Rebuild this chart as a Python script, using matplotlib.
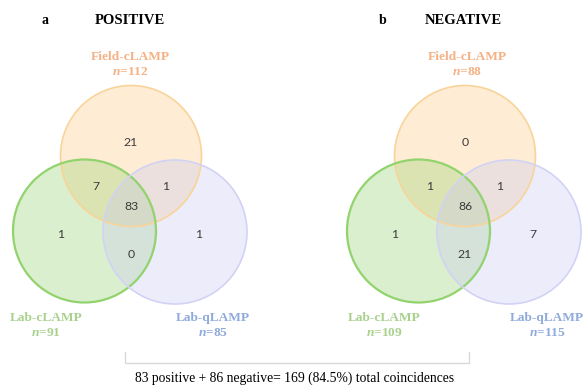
import matplotlib
matplotlib.use("Agg")
import matplotlib.pyplot as plt
from matplotlib.patches import Circle

plt.rcParams['mathtext.fontset'] = 'custom'
plt.rcParams['mathtext.it'] = 'Liberation Serif:italic:bold'
plt.rcParams['mathtext.rm'] = 'Liberation Serif:bold'

# ---- data ----
panel_letters = ["a", "b"]
panel_titles = ["POSITIVE", "NEGATIVE"]
set_names = ["Field-cLAMP", "Lab-cLAMP", "Lab-qLAMP"]
n_positive = [112, 91, 85]
n_negative = [88, 109, 115]
# regions: field only, lab-c only, lab-q only, field&c, field&q, c&q, all
regions = ["F", "C", "Q", "FC", "FQ", "CQ", "FCQ"]
counts_positive = [21, 1, 1, 7, 1, 0, 83]
counts_negative = [0, 1, 7, 1, 1, 21, 86]
footer = "83 positive + 86 negative= 169 (84.5%) total coincidences"

# ---- style ----
face_cols = ["#FFC77D", "#8FD16A", "#C8C8F5"]
edge_cols = ["#F9D49A", "#92D36E", "#D2D2F5"]
label_cols = ["#F4B183", "#A9D18E", "#8FAADC"]

fig = plt.figure(figsize=(5.85, 3.85), dpi=100)
ax = fig.add_axes([0, 0, 1, 1])
ax.set_xlim(0, 585)
ax.set_ylim(385, 0)
ax.set_aspect('equal')
ax.axis('off')

panel_dx = [0, 334]
circ_off = [(131, 156), (84.5, 231), (175, 232)]
radii = [70.5, 71.5, 72]
edge_w = [1.2, 1.6, 1.2]
region_pos = {"F": (131, 143), "C": (61, 234), "Q": (199, 234),
              "FC": (96, 186), "FQ": (166, 186), "CQ": (131, 255),
              "FCQ": (131, 207)}
label_pos = [(130, 57), (46, 318), (213, 318)]
label_pos_b = [(467, 57), (384, 318), (547, 318)]

for p, (letter, title, ns, cnts) in enumerate(zip(
        panel_letters, panel_titles, [n_positive, n_negative],
        [counts_positive, counts_negative])):
    dx = panel_dx[p]
    for i in range(3):
        cx, cy = circ_off[i]
        ax.add_patch(Circle((cx + dx, cy), radii[i], facecolor=face_cols[i],
                            alpha=0.33, edgecolor='none', zorder=1 + i))
    for i in range(3):
        cx, cy = circ_off[i]
        ax.add_patch(Circle((cx + dx, cy), radii[i], facecolor='none',
                            edgecolor=edge_cols[i], lw=edge_w[i], zorder=5 + i))
    for r, c in zip(regions, cnts):
        x, y = region_pos[r]
        ax.text(x + dx, y, str(c), ha='center', va='center', fontsize=8.8,
                family='Lato', color='#3a3a3a', zorder=10)
    lp = label_pos if p == 0 else label_pos_b
    for i in range(3):
        x, y = lp[i]
        ax.text(x, y, set_names[i], ha='center', va='center', fontsize=9.6,
                family='Liberation Serif', weight='bold', color=label_cols[i])
        ax.text(x, y + 15, r"$n$=" + str(ns[i]), ha='center', va='center',
                fontsize=9.6, family='Liberation Serif', weight='bold',
                color=label_cols[i])
    ax.text(45 + (338 if p else 0), 21, letter, ha='center', va='center',
            fontsize=10, family='Liberation Serif', weight='bold', color='black')
    ax.text(130 + dx - (1 if p else 0), 21, title, ha='center', va='center',
            fontsize=10.5, family='Liberation Serif', weight='bold', color='black')

ax.plot([125, 125, 469, 469], [352, 363, 363, 352], color='#D9D9D9', lw=1.0,
        solid_joinstyle='miter')
ax.text(295, 378, footer, ha='center', va='center', fontsize=9.8,
        family='Liberation Serif', color='black')

fig.savefig("out.png", dpi=100)
